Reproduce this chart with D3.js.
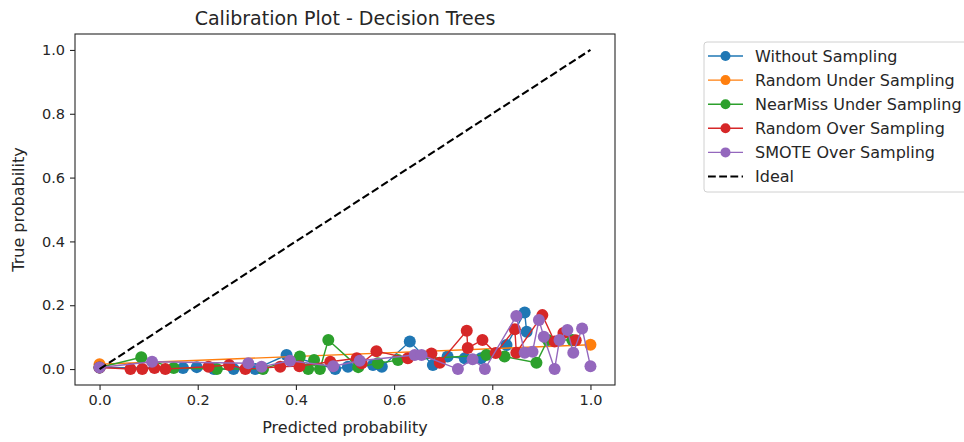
<!DOCTYPE html>
<html><head><meta charset="utf-8">
<script src="https://cdn.jsdelivr.net/npm/d3@7"></script>
<style>body{margin:0;background:#fff;overflow:hidden}svg{display:block}text{font-family:"DejaVu Sans",sans-serif;fill:#262626}</style>
</head><body><svg id="c" width="964" height="442"></svg>
<script>
const seriesNames = ["Without Sampling","Random Under Sampling","NearMiss Under Sampling","Random Over Sampling","SMOTE Over Sampling"];
const seriesColors = ["#1f77b4","#ff7f0e","#2ca02c","#d62728","#9467bd"];
const withoutSampling = [[0,0.005],[0.17,0.003],[0.198,0.006],[0.233,0.0],[0.273,0.0],[0.317,0.0],[0.381,0.044],[0.48,0.0],[0.506,0.007],[0.557,0.013],[0.575,0.007],[0.632,0.086],[0.679,0.013],[0.709,0.039],[0.744,0.034],[0.777,0.034],[0.829,0.075],[0.866,0.177],[0.87,0.117]];
const randomUnder = [[0,0.015],[1.0,0.076]];
const nearMiss = [[0,0.005],[0.085,0.037],[0.151,0.003],[0.239,0.0],[0.333,0.0],[0.408,0.039],[0.425,0.0],[0.437,0.028],[0.449,0.0],[0.466,0.091],[0.527,0.006],[0.567,0.018],[0.608,0.028],[0.788,0.044],[0.825,0.039],[0.89,0.02],[0.913,0.091],[0.963,0.091]];
const randomOver = [[0,0.005],[0.063,0.0],[0.087,0.0],[0.112,0.003],[0.134,0.0],[0.222,0.007],[0.264,0.013],[0.297,0.0],[0.368,0.007],[0.407,0.009],[0.47,0.023],[0.524,0.034],[0.534,0.018],[0.564,0.056],[0.628,0.034],[0.676,0.049],[0.693,0.02],[0.748,0.12],[0.75,0.066],[0.78,0.091],[0.807,0.05],[0.846,0.125],[0.849,0.051],[0.902,0.169],[0.927,0.086],[0.945,0.113],[0.97,0.09]];
const smoteOver = [[0,0.005],[0.107,0.023],[0.303,0.018],[0.33,0.007],[0.388,0.026],[0.476,0.009],[0.53,0.026],[0.642,0.044],[0.656,0.044],[0.73,0.0],[0.76,0.031],[0.785,0.0],[0.849,0.166],[0.866,0.051],[0.882,0.054],[0.895,0.154],[0.905,0.101],[0.927,0.0],[0.937,0.091],[0.953,0.122],[0.965,0.051],[0.983,0.127],[1.0,0.009]];
const ideal = [[0,0],[1,1]];
const tickValues = [0,0.2,0.4,0.6,0.8,1.0];
const seriesData = [withoutSampling, randomUnder, nearMiss, randomOver, smoteOver];

const svg = d3.select("#c");
const L=75,R=615,T=34,B=385;
const x = d3.scaleLinear().domain([-0.05,1.05]).range([L,R]);
const y = d3.scaleLinear().domain([-0.05,1.05]).range([B,T]);

svg.append("defs").append("clipPath").attr("id","cp").append("rect").attr("x",L).attr("y",T).attr("width",R-L).attr("height",B-T);
const g = svg.append("g").attr("clip-path","url(#cp)");
const line = d3.line().x(d=>x(d[0])).y(d=>y(d[1]));

seriesData.forEach((s,i)=>{
  g.append("path").datum(s).attr("d",line).attr("fill","none").attr("stroke",seriesColors[i]).attr("stroke-width",1.4);
  g.selectAll(null).data(s).enter().append("circle").attr("cx",d=>x(d[0])).attr("cy",d=>y(d[1])).attr("r",6).attr("fill",seriesColors[i]);
});
g.append("path").datum(ideal).attr("d",line).attr("fill","none").attr("stroke","#000").attr("stroke-width",2.1).attr("stroke-dasharray","7.8,3.4");

const xa = svg.append("g").attr("transform",`translate(0,${B})`).call(d3.axisBottom(x).tickValues(tickValues).tickFormat(d3.format(".1f")).tickSize(5).tickPadding(5));
const ya = svg.append("g").attr("transform",`translate(${L},0)`).call(d3.axisLeft(y).tickValues(tickValues).tickFormat(d3.format(".1f")).tickSize(5).tickPadding(5));
[xa,ya].forEach(a=>{a.select(".domain").remove();a.selectAll("text").style("font-size","14.5px").attr("fill","#262626").style("font-family","DejaVu Sans");a.selectAll("line").attr("stroke","#262626").attr("stroke-width",1.1);});
svg.append("rect").attr("x",L).attr("y",T).attr("width",R-L).attr("height",B-T).attr("fill","none").attr("stroke","#262626").attr("stroke-width",1.1);

svg.append("text").attr("x",(L+R)/2).attr("y",25).attr("text-anchor","middle").style("font-size","19px").text("Calibration Plot - Decision Trees");
svg.append("text").attr("x",(L+R)/2).attr("y",433).attr("text-anchor","middle").style("font-size","16px").text("Predicted probability");
svg.append("text").attr("transform",`translate(24,${(T+B)/2}) rotate(-90)`).attr("text-anchor","middle").style("font-size","16px").text("True probability");

const lg = svg.append("g");
lg.append("rect").attr("x",704).attr("y",42).attr("width",275).attr("height",150).attr("rx",3).attr("fill","#fff").attr("stroke","#d0d0d0").attr("stroke-width",1);
const names = seriesNames.concat(["Ideal"]);
names.forEach((n,i)=>{
  const yy = 56 + i*24.1;
  if(i<5){
    lg.append("line").attr("x1",708).attr("x2",743).attr("y1",yy).attr("y2",yy).attr("stroke",seriesColors[i]).attr("stroke-width",1.4);
    lg.append("circle").attr("cx",725.5).attr("cy",yy).attr("r",5).attr("fill",seriesColors[i]);
  } else {
    lg.append("line").attr("x1",708).attr("x2",743).attr("y1",yy).attr("y2",yy).attr("stroke","#000").attr("stroke-width",2.1).attr("stroke-dasharray","7.8,3.4");
  }
  lg.append("text").attr("x",755).attr("y",yy+5.5).style("font-size","16px").text(n);
});
</script></body></html>
